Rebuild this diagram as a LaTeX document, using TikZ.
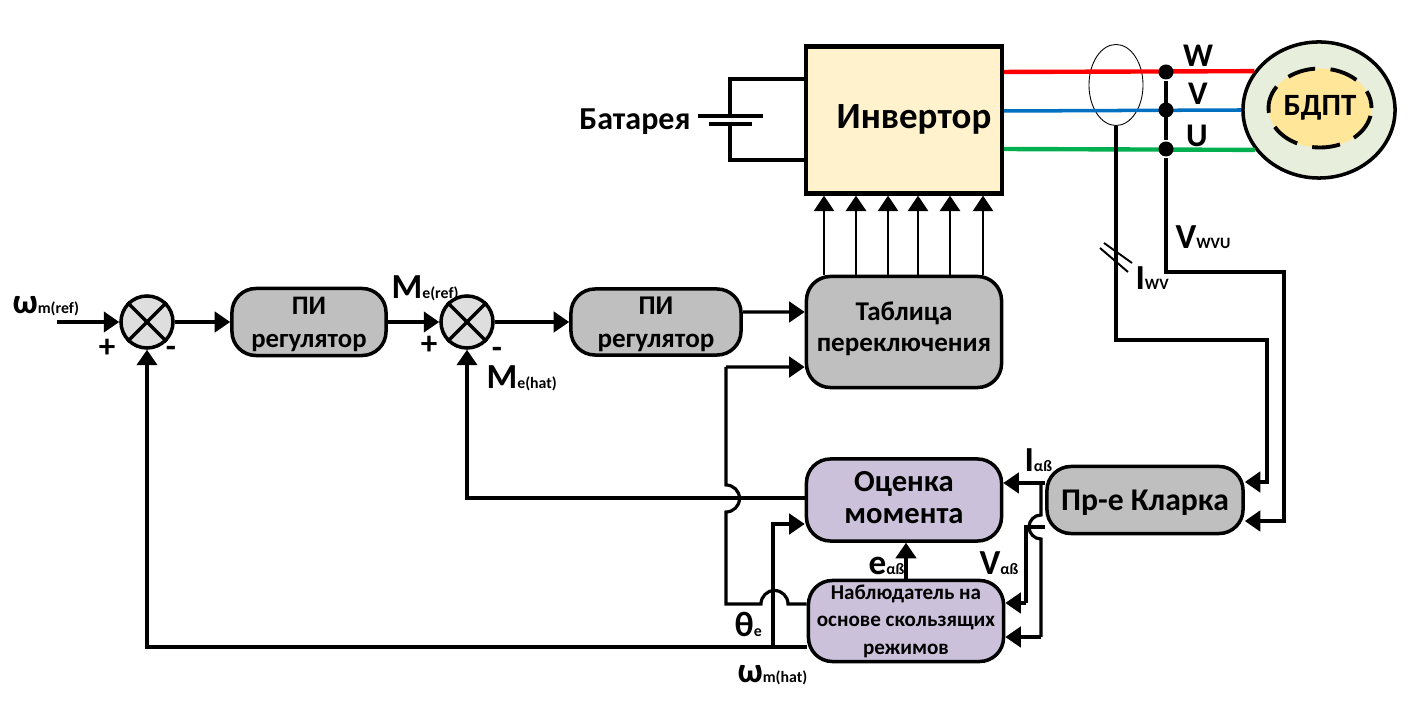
\documentclass[tikz,border=0pt]{standalone}
\usepackage{fontspec}
\setmainfont{Carlito}
\usetikzlibrary{arrows.meta,shapes.geometric}
\definecolor{invfill}{HTML}{FFF2CC}
\definecolor{grayfill}{HTML}{BFBFBF}
\definecolor{lilacfill}{HTML}{CCC1DA}
\definecolor{motorfill}{HTML}{E8EEDC}
\definecolor{rotorfill}{HTML}{FFE699}
\definecolor{wireW}{HTML}{FF0000}
\definecolor{wireV}{HTML}{0070C0}
\definecolor{wireU}{HTML}{00B050}
\newcommand{\pxfont}[2]{\fontsize{#1}{#2}\selectfont\bfseries}
\newcommand{\siglabel}[2]{{\pxfont{10}{10}#1}{\pxfont{4.5}{6}#2}}

\begin{document}
\begin{tikzpicture}[x=0.01cm,y=-0.01cm,line width=0.9pt,
        tip/.style={-{Triangle[width=5.8pt,length=4.4pt]}}]
        \tikzstyle{block}=[draw=black,rounded corners=0.24cm,line width=1pt,align=center,inner sep=0pt]
        \tikzstyle{gray block}=[block,fill=grayfill]
        \tikzstyle{lilac block}=[block,fill=lilacfill]
        \tikzstyle{summer}=[circle,draw=black,fill=black!13,line width=1pt,minimum size=0.52cm,inner sep=0pt]
        \tikzstyle{junction}=[circle,fill=black,minimum size=0.15cm,inner sep=0pt]
        \tikzstyle{annot}=[inner sep=0pt,font=\pxfont{9.4}{10}]
        \useasboundingbox (0,0) rectangle (1421,716);

        % Draw the blocks
        \node[draw=black,line width=1.2pt,fill=invfill,minimum width=1.955cm,minimum height=1.47cm,inner sep=0pt] (inv) at (904,120) {};
        \node[inner sep=0pt,font=\pxfont{10.5}{12}] (invtext) at (914,119) {Инвертор};
        \node[gray block,minimum width=1.95cm,minimum height=1.11cm,font=\pxfont{7.7}{8.8}] (table) at (904,332) {Таблица\\переключения\rule[-3.1pt]{0pt}{0pt}};
        \node[gray block,minimum width=1.54cm,minimum height=0.67cm,font=\pxfont{7.6}{9.3}] (piA) at (309,322) {\rule{0pt}{6.3pt}ПИ\\регулятор};
        \node[gray block,minimum width=1.70cm,minimum height=0.66cm,font=\pxfont{7.7}{9.3}] (piB) at (656,322) {\rule{0pt}{6.3pt}ПИ\\регулятор};
        \node[lilac block,minimum width=1.95cm,minimum height=0.82cm,font=\pxfont{8.7}{9.1}] (est) at (904,500) {Оценка\\момента\rule[-1.7pt]{0pt}{0pt}};
        \node[lilac block,minimum width=1.95cm,minimum height=0.81cm,font=\pxfont{6}{7.8}] (obs) at (906,621) {Наблюдатель на\\основе скользящих\\режимов};
        \node[gray block,minimum width=1.96cm,minimum height=0.67cm,font=\pxfont{9}{9}] (clk) at (1145,500) {\rule{0pt}{7.6pt}Пр-е Кларка};

        % Draw the summing points
        \node[summer] (sumA) at (147,322) {};
        \node[summer] (sumB) at (467,322) {};
        \foreach \s in {sumA,sumB} {
            \draw[line width=1pt] (\s.45) -- (\s.225);
            \draw[line width=1pt] (\s.135) -- (\s.315);
        }

        % Draw the motor
        \node[ellipse,draw=black,fill=motorfill,line width=1pt,minimum width=1.52cm,minimum height=1.36cm,inner sep=0pt] (motor) at (1319,110) {};
        \node[ellipse,draw=black,fill=rotorfill,line width=1.1pt,dash pattern=on 8pt off 4.4pt,dash phase=3pt,minimum width=0.95cm,minimum height=0.79cm,inner sep=0pt,font=\pxfont{8.8}{9}] (rotor) at (1320,108) {БДПТ};

        % Draw the current sensor and the phase wires
        \node[ellipse,draw=black,line width=0.25pt,minimum width=0.54cm,minimum height=0.81cm,inner sep=0pt] (sensor) at (1116,85) {};
        \draw[wireW,line width=1.25pt] ([yshift=0.48cm]inv.east) -- (motor.149);
        \draw[wireV,line width=1pt] ([yshift=0.09cm]inv.east) -- (motor.180);
        \draw[wireU,line width=1.25pt] ([yshift=-0.29cm]inv.east) -- (motor.212);
        \node[junction] (dotW) at (1166,72) {};
        \node[junction] (dotV) at (1166,110) {};
        \node[junction] (dotU) at (1166,149) {};

        % Draw the battery
        \coordinate (batP) at (730,116);
        \coordinate (batN) at (730,124);
        \draw[line width=1pt] ([yshift=0.41cm]inv.west) -| (batP);
        \draw[line width=1pt] ([yshift=-0.4cm]inv.west) -| (batN);
        \draw[line width=1pt] ([xshift=-0.32cm]batP) -- ([xshift=0.33cm]batP);
        \draw[line width=1.2pt] ([xshift=-0.21cm]batN) -- ([xshift=0.22cm]batN);
        \node[annot,anchor=east,font=\pxfont{9.1}{10}] (batlabel) at (692,122) {Батарея};

        % Connect the table with the inverter
        \foreach \x/\w in {-80/0.35,-48/0.7,-16/0.35,14/0.45,46/0.55,79/0.3}
        \draw[tip,line width=\w pt] ([xshift=\x*0.01cm]table.north) -- ([xshift=\x*0.01cm]inv.south);

        % Connect the forward path
        \coordinate (wstart) at (57,322);
        \draw[tip] (wstart) -- (sumA.west);
        \draw[tip] (sumA.east) -- (piA.west);
        \draw[tip] (piA.east) -- (sumB.west);
        \draw[tip] (sumB.east) -- (piB.west);
        \draw[tip] ([yshift=0.1cm]piB.east) -- ([yshift=0.2cm]table.west);

        % Feedback lines
        \draw[tip] ([yshift=0.02cm]est.west) -| (sumB.south);
        \draw[tip] ([yshift=-0.26cm]obs.west) -| (sumA.south);
        \coordinate (wjoin) at (773,647);
        \draw[tip] (wjoin) |- ([yshift=-0.24cm]est.west);
        \draw[tip] (obs.north) -- (obs.north |- est.south);

        % The angle line jumps over two others
        \coordinate (thjA) at (788,604);
        \coordinate (thbend) at (726,604);
        \coordinate (thjB) at (726,512);
        \coordinate (thtop) at (726,367);
        \draw (obs.west |- thjA) -- (thjA) arc (0:180:0.135cm) -- (thbend) -- (thjB) arc (-90:90:0.135cm) -- (thtop);
        \draw[tip] (thtop) -- ([yshift=-0.35cm]table.west);

        % Lines of the Clarke block
        \coordinate (vbend) at (1284,272);
        \coordinate (ibend) at (1267,340);
        \draw[line width=1pt] (dotW) -- (dotU);
        \draw[tip,line width=1pt] (dotU) |- (vbend) |- ([yshift=-0.21cm]clk.east);
        \draw[tip,line width=1pt] (sensor.south) |- (ibend) |- ([yshift=0.18cm]clk.east);
        \coordinate (slashA) at (1114,260);
        \coordinate (slashB) at (1118,253);
        \draw[line width=0.55pt] ([shift={(-0.14cm,0.12cm)}]slashA) -- ([shift={(0.14cm,-0.12cm)}]slashA);
        \draw[line width=0.55pt] ([shift={(-0.14cm,0.1cm)}]slashB) -- ([shift={(0.14cm,-0.1cm)}]slashB);
        \draw[tip] ([yshift=0.17cm]clk.west) -- ([yshift=0.17cm]est.east);
        \coordinate (ijA) at (1041,483);
        \coordinate (ijB) at (1041,515);
        \coordinate (ijC) at (1041,637);
        \draw (ijA) -- (ijB) arc (90:270:0.12cm) -- (ijC);
        \draw[tip] (ijC) -- (ijC -| obs.east);
        \coordinate (vjoin) at (1026,603);
        \draw ([yshift=-0.27cm]clk.west) -| (vjoin);
        \draw[tip] (vjoin) -- (vjoin -| obs.east);

        % Annotate the signals
        \node[annot] (lW) at (1198,56) {W};
        \node[annot] (lV) at (1198,94) {V};
        \node[annot] (lU) at (1197,136) {U};
        \node[annot,anchor=west] (lVwvu) at (1174,237) {\siglabel{V}{WVU}};
        \node[annot,anchor=west] (lIwv) at (1134,278) {\siglabel{I}{WV}};
        \node[annot,anchor=west] (lwref) at (11,306) {\siglabel{ω}{m(ref)}};
        \node[annot,anchor=west] (lMref) at (390,288) {\siglabel{M}{e(ref)}};
        \node[annot,anchor=west] (lMhat) at (485,378) {\siglabel{M}{e(hat)}};
        \node[annot,anchor=west] (ltheta) at (733,624) {\siglabel{θ}{e}};
        \node[annot,anchor=west] (lwhat) at (736,675) {\siglabel{ω}{m(hat)}};
        \node[annot,anchor=west] (leab) at (867,566) {\siglabel{e}{αß}};
        \node[annot,anchor=west] (lVab) at (978,563) {\siglabel{V}{αß}};
        \node[annot,anchor=west] (lIab) at (1023,460) {\siglabel{I}{αß}};
        \node[annot] (pA) at (107,348) {+};
        \node[annot] (mA) at (171,352) {-};
        \node[annot] (pB) at (429,345) {+};
        \node[annot] (mB) at (497,353) {-};
\end{tikzpicture}
\end{document}
